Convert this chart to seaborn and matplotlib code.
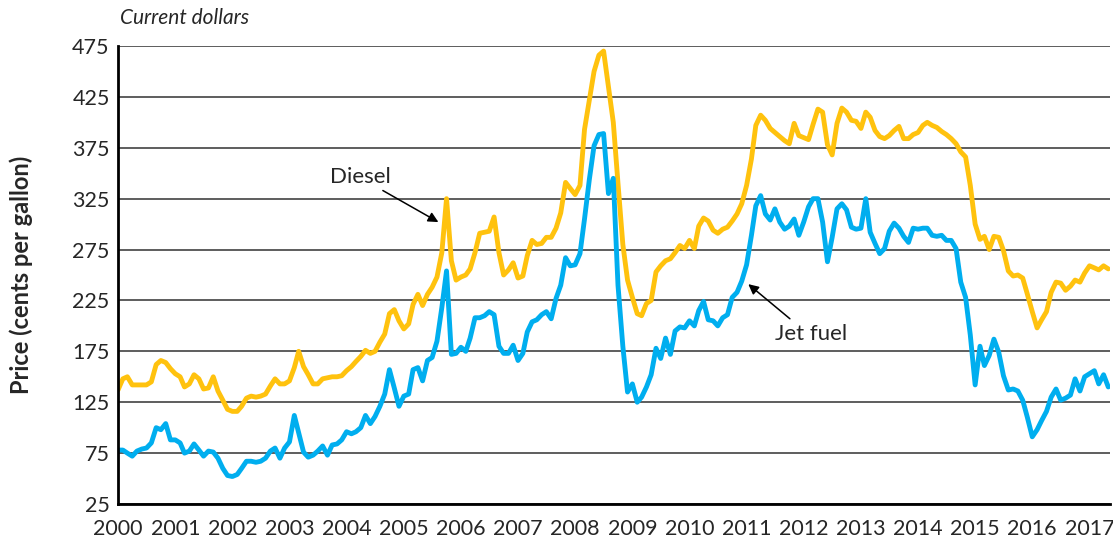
import numpy as np
import pandas as pd
import matplotlib
matplotlib.use("Agg")
import matplotlib.pyplot as plt
import seaborn as sns

# ---- data (monthly, Jan 2000 - May 2017, cents per gallon) ----
diesel = [
    137, 148, 150, 142, 142, 142, 142, 145, 162, 166, 164, 158,   # 2000
    153, 150, 140, 143, 152, 148, 138, 139, 150, 136, 127, 118,   # 2001
    116, 116, 121, 129, 131, 130, 131, 133, 141, 148, 143, 143,   # 2002
    146, 159, 175, 160, 152, 143, 143, 148, 149, 150, 150, 151,   # 2003
    156, 160, 165, 170, 176, 173, 175, 184, 192, 212, 216, 205,   # 2004
    197, 202, 221, 231, 220, 231, 238, 248, 272, 325, 264, 245,   # 2005
    248, 250, 256, 272, 291, 292, 293, 307, 272, 250, 255, 262,   # 2006
    247, 249, 269, 284, 280, 281, 287, 287, 296, 311, 341, 335,   # 2007
    329, 338, 393, 422, 450, 466, 470, 435, 400, 340, 280, 245,   # 2008
    228, 212, 210, 222, 225, 253, 259, 264, 266, 272, 279, 276,   # 2009
    284, 276, 298, 306, 303, 294, 291, 295, 297, 303, 310, 320,   # 2010
    338, 364, 397, 407, 402, 394, 390, 386, 382, 379, 399, 387,   # 2011
    385, 383, 398, 413, 410, 378, 368, 399, 414, 410, 402, 401,   # 2012
    394, 410, 405, 392, 386, 384, 387, 392, 396, 384, 384, 388,   # 2013
    390, 397, 400, 397, 395, 391, 388, 384, 379, 371, 366, 338,   # 2014
    300, 285, 288, 275, 288, 287, 274, 254, 249, 250, 247, 231,   # 2015
    214, 198, 206, 214, 233, 243, 242, 235, 239, 245, 243, 252,   # 2016
    259, 257, 255, 259, 256,                                      # 2017
]
jet_fuel = [
    78, 78, 75, 72, 77, 79, 80, 85, 100, 98, 104, 88,             # 2000
    88, 85, 75, 77, 84, 78, 72, 77, 76, 70, 60, 53,               # 2001
    52, 54, 60, 67, 67, 66, 67, 70, 77, 80, 70, 80,               # 2002
    86, 112, 95, 76, 71, 73, 77, 82, 73, 83, 84, 88,              # 2003
    96, 94, 96, 100, 112, 104, 111, 121, 133, 157, 139, 121,      # 2004
    131, 133, 157, 159, 146, 166, 169, 185, 218, 254, 172, 173,   # 2005
    179, 175, 188, 208, 208, 210, 214, 211, 180, 173, 173, 181,   # 2006
    166, 173, 194, 204, 206, 211, 214, 207, 227, 240, 267, 259,   # 2007
    260, 271, 305, 344, 377, 388, 389, 330, 345, 240, 180, 135,   # 2008
    143, 125, 130, 140, 152, 178, 168, 188, 172, 195, 199, 198,   # 2009
    205, 200, 215, 224, 206, 205, 200, 208, 211, 228, 233, 244,   # 2010
    260, 289, 318, 328, 310, 304, 315, 302, 295, 298, 305, 289,   # 2011
    302, 317, 325, 325, 302, 263, 287, 315, 320, 314, 297, 295,   # 2012
    296, 325, 292, 281, 271, 276, 293, 301, 296, 288, 282, 296,   # 2013
    295, 296, 296, 289, 288, 289, 284, 284, 276, 243, 228, 191,   # 2014
    142, 180, 161, 171, 187, 174, 151, 137, 138, 136, 127, 110,   # 2015
    91, 98, 107, 116, 130, 138, 127, 129, 132, 148, 136, 150,     # 2016
    153, 156, 143, 152, 140,                                      # 2017
]
months = pd.date_range("2000-01-01", periods=len(diesel), freq="MS")
years = list(range(2000, 2018))
y_ticks = [25, 75, 125, 175, 225, 275, 325, 375, 425, 475]

DIESEL_C = "#FFC20E"
JET_C = "#00AEEF"

sns.set_theme(style="white")
plt.rcParams["font.family"] = ["Lato", "DejaVu Sans"]

fig = plt.figure(figsize=(11.13, 5.46), dpi=100)
ax = fig.add_axes([118 / 1113, 42 / 546, (1110 - 118) / 1113, (504 - 46) / 546])

df = pd.DataFrame({"date": months, "Diesel": diesel, "Jet fuel": jet_fuel})
sns.lineplot(data=df, x="date", y="Diesel", color=DIESEL_C, linewidth=3.5, ax=ax)
sns.lineplot(data=df, x="date", y="Jet fuel", color=JET_C, linewidth=3.5, ax=ax)

ax.set_ylim(25, 475)
ax.set_xlim(pd.Timestamp("2000-01-01"), pd.Timestamp("2017-05-12"))
ax.set_yticks(y_ticks)
ax.set_yticklabels([str(v) for v in y_ticks], fontsize=15.5)
ax.set_xticks([pd.Timestamp(f"{y}-01-01") for y in years])
ax.set_xticklabels([str(y) for y in years], fontsize=15.5)
ax.tick_params(axis="x", direction="in", length=15, width=2, color="black", pad=11)
ax.tick_params(axis="y", length=0, pad=6)

ax.yaxis.grid(True, color="#505050", linewidth=1.3)
ax.xaxis.grid(False)
ax.set_axisbelow(True)
for s in ["top", "right"]:
    ax.spines[s].set_visible(False)
for s in ["left", "bottom"]:
    ax.spines[s].set_color("black")
    ax.spines[s].set_linewidth(2)
    ax.spines[s].set_zorder(5)

ax.set_xlabel("")
ax.set_ylabel("Price (cents per gallon)", fontsize=17, fontweight="bold", labelpad=28)

fig.text(120 / 1113, 1 - 18 / 546, "Current dollars", fontsize=15, style="italic",
         ha="left", va="center")

arrow = dict(arrowstyle="-|>", color="black", lw=1.1, shrinkA=0, shrinkB=0,
             mutation_scale=15)
ax.text(pd.Timestamp("2004-04-01"), 346, "Diesel", fontsize=16, ha="center", va="center")
ax.annotate("", xy=(pd.Timestamp("2005-08-10"), 302),
            xytext=(pd.Timestamp("2004-08-20"), 333), arrowprops=arrow)
ax.text(pd.Timestamp("2012-02-15"), 192, "Jet fuel", fontsize=16, ha="center", va="center")
ax.annotate("", xy=(pd.Timestamp("2011-01-12"), 241),
            xytext=(pd.Timestamp("2011-10-05"), 207), arrowprops=arrow)

fig.savefig("out.png", dpi=100)
